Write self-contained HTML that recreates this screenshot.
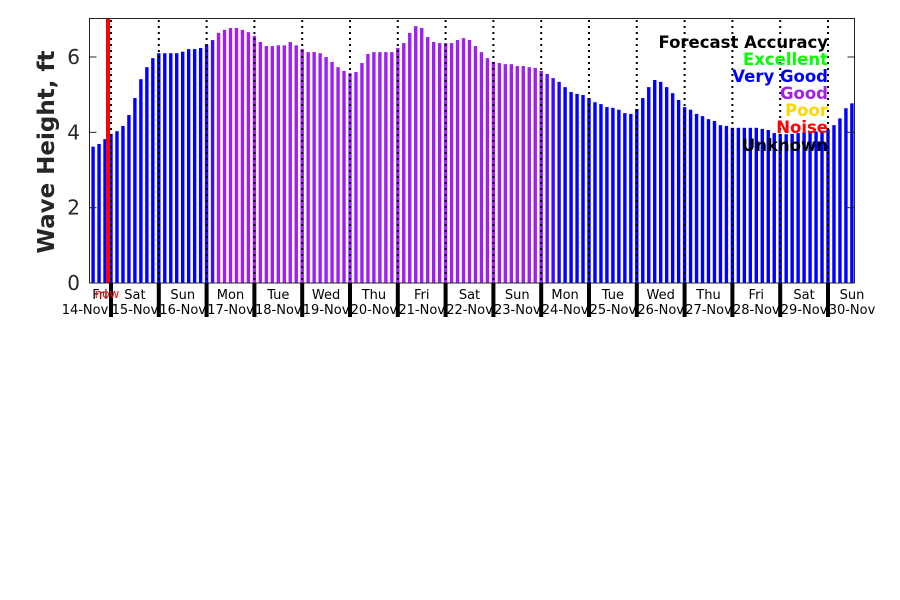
<!DOCTYPE html>
<html><head><meta charset="utf-8"><style>
html,body{margin:0;padding:0;background:#fff;width:900px;height:600px;overflow:hidden}
svg{display:block;font-family:"DejaVu Sans","Liberation Sans",sans-serif}
</style></head><body>
<svg id="chart" width="900" height="600" viewBox="0 0 900 600" xmlns="http://www.w3.org/2000/svg">
<rect x="0" y="0" width="900" height="600" fill="#fff"/>
<g id="bars"></g>
<g id="grid"></g>
<rect x="106" y="18" width="4" height="265" fill="#ff0000"/>
<rect x="89.5" y="18.5" width="765" height="264.5" fill="none" stroke="#262626" stroke-width="1"/>
<g id="yaxis"></g>
<g id="xaxis"></g>
<text x="107" y="298" font-size="12" fill="#ff0000" text-anchor="middle">now</text>
<text transform="translate(54,152) rotate(-90)" font-size="23" font-weight="bold" fill="#262626" text-anchor="middle">Wave Height, ft</text>
<g font-size="16.5" font-weight="bold" text-anchor="end">
<text x="828" y="48" fill="#000">Forecast Accuracy</text>
<text x="828" y="65" fill="#00ff00">Excellent</text>
<text x="828" y="82" fill="#0000ff">Very Good</text>
<text x="828" y="99" fill="#a020f0">Good</text>
<text x="828" y="116" fill="#ffd700">Poor</text>
<text x="828" y="133" fill="#ff0000">Noise</text>
<text x="828" y="151" fill="#000">Unknown</text>
</g>
</svg>
<script>
const heights=[3.62,3.69,3.82,3.96,4.03,4.17,4.46,4.91,5.41,5.73,5.97,6.10,6.10,6.10,6.10,6.14,6.21,6.21,6.24,6.33,
6.45,6.64,6.72,6.77,6.77,6.72,6.66,6.56,6.40,6.29,6.29,6.31,6.31,6.40,6.31,6.21,6.13,6.13,6.10,6.0,
5.87,5.73,5.63,5.57,5.60,5.84,6.08,6.13,6.13,6.13,6.13,6.24,6.37,6.64,6.82,6.77,6.53,6.40,6.37,6.37,
6.37,6.45,6.50,6.45,6.29,6.13,5.97,5.87,5.84,5.81,5.81,5.76,5.76,5.73,5.71,5.63,5.55,5.44,5.34,5.2,
5.07,5.02,4.99,4.91,4.8,4.75,4.67,4.65,4.6,4.51,4.49,4.62,4.91,5.2,5.39,5.34,5.2,5.04,4.86,4.67,
4.6,4.49,4.43,4.35,4.3,4.19,4.17,4.12,4.12,4.12,4.12,4.12,4.09,4.06,3.98,3.96,3.95,3.96,3.98,4.0,
4.0,4.02,4.04,4.08,4.19,4.37,4.64,4.77];
// accuracy mix: 0 = Very Good (blue), 1 = Good (purple)
const goodMix=[0,0,0,0,0,0,0,0,0,0,0,0,0,0,0,0,0,0,0,0.2,0.4];
const dayNames=["Fri","Sat","Sun","Mon","Tue","Wed","Thu","Fri","Sat","Sun","Mon","Tue","Wed","Thu","Fri","Sat","Sun"];
const dayDates=["14-Nov","15-Nov","16-Nov","17-Nov","18-Nov","19-Nov","20-Nov","21-Nov","22-Nov","23-Nov","24-Nov","25-Nov","26-Nov","27-Nov","28-Nov","29-Nov","30-Nov"];
const yTicks=[0,2,4,6];
const firstHour=15, stepHours=3;

const NS="http://www.w3.org/2000/svg";
const L=89.5,R=854.5,T=18,B=283;
const day0X=63.2, dayW=47.8;
function xH(h){return day0X+h/24*dayW;}
function yV(v){return B-v/6*(B-57);}
function mk(tag,attrs,parent){const e=document.createElementNS(NS,tag);for(const k in attrs)e.setAttribute(k,attrs[k]);parent.appendChild(e);return e;}
function mixFor(i){
  if(i<goodMix.length) return goodMix[i];
  if(i<=74) return 1;
  const tail=[0.85,0.6,0.4,0.2];
  if(i-75<tail.length) return tail[i-75];
  return 0;
}
function colorFor(m){
  const r=Math.round(0+160*m),g=Math.round(0+32*m),b=Math.round(255-15*m);
  return `rgb(${r},${g},${b})`;
}
const gb=document.getElementById('bars');
heights.forEach((v,i)=>{
  const cx=xH(firstHour+i*stepHours);
  const r=mk('rect',{x:cx-1.7,y:yV(v),width:3.4,height:B-yV(v),fill:colorFor(mixFor(i))},gb);
  
  
});
const gg=document.getElementById('grid');
const gx=document.getElementById('xaxis');
for(let d=1;d<dayNames.length;d++){
  const x=day0X+d*dayW;
  const ln=mk('line',{x1:x,y1:T+2,x2:x,y2:B,stroke:'#000','stroke-width':2,'stroke-dasharray':'2,4'},gg);
  
  
  const tk=mk('rect',{x:x-2,y:B,width:4,height:34,fill:'#000'},gx);
  
  
}
dayNames.forEach((n,d)=>{
  let cx=day0X+(d+0.5)*dayW;
  let cxDay=cx;
  if(d===0){cxDay=100;cx=85;}
  if(d===dayNames.length-1){cxDay=852;cx=852;}
  const t1=mk('text',{x:cxDay,y:299,'font-size':13,fill:'#000','text-anchor':'middle'},gx);
  t1.textContent=n;
  
  
  const t2=mk('text',{x:cx,y:314,'font-size':13,fill:'#000','text-anchor':'middle'},gx);
  t2.textContent=dayDates[d];
  
  
});
const gy=document.getElementById('yaxis');
yTicks.forEach(v=>{
  const y=yV(v);
  const a=mk('line',{x1:L,y1:y,x2:L+7,y2:y,stroke:'#262626','stroke-width':1},gy);
  
  
  const b=mk('line',{x1:R-7,y1:y,x2:R,y2:y,stroke:'#262626','stroke-width':1},gy);
  
  
  const t=mk('text',{x:80,y:y+7,'font-size':20,fill:'#262626','text-anchor':'end'},gy);
  t.textContent=String(v);
  
  
});
</script>
</body></html>
